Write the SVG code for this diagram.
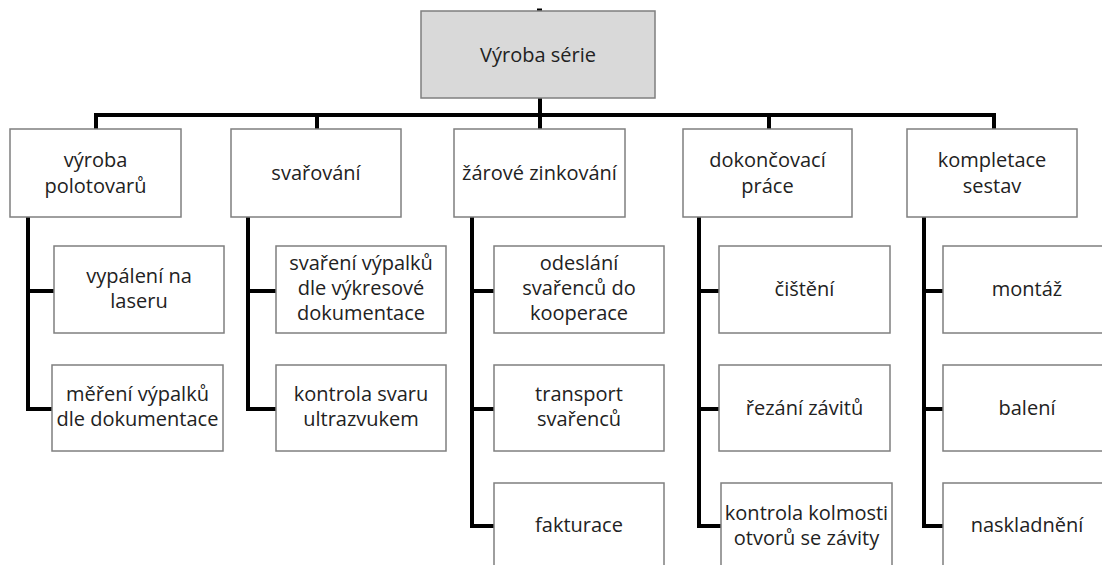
<svg xmlns="http://www.w3.org/2000/svg" width="1102" height="565" viewBox="0 0 1102 565">
  <style>
    .box { fill: #ffffff; stroke: #7f7f7f; stroke-width: 1.5; }
    .root { fill: #d9d9d9; stroke: #7f7f7f; stroke-width: 1.5; }
    .lbl { font-family: "Open Sans", "DejaVu Sans", sans-serif; font-size: 20px; fill: #222222; text-anchor: middle; }
    .wire { fill: none; stroke: #000000; stroke-width: 4; stroke-linejoin: miter; stroke-linecap: butt; }
  </style>
  <rect width="1102" height="565" fill="#ffffff"/>

  <!-- connectors -->
  <g id="connectors" class="wire">
    <rect x="537" y="8.5" width="5" height="3" fill="#000000" stroke="none"/>
    <path d="M540 98 V115"/>
    <path d="M96 131 V115 H994 V131"/>
    <path d="M317 115 V131"/>
    <path d="M540 115 V131"/>
    <path d="M769 115 V131"/>
    <!-- výroba polotovarů -->
    <path d="M28 217 V409 H54"/>
    <path d="M28 291 H54"/>
    <!-- svařování -->
    <path d="M248 217 V409 H277"/>
    <path d="M248 291 H277"/>
    <!-- žárové zinkování -->
    <path d="M472 217 V526 H495"/>
    <path d="M472 291 H495"/>
    <path d="M472 409 H495"/>
    <!-- dokončovací práce -->
    <path d="M699 217 V526 H722"/>
    <path d="M699 291 H720"/>
    <path d="M699 409 H720"/>
    <!-- kompletace sestav -->
    <path d="M924 217 V526 H944"/>
    <path d="M924 291 H944"/>
    <path d="M924 409 H944"/>
  </g>

  <g id="n-root">
    <rect class="root" x="421" y="11" width="234" height="87"/>
    <text class="lbl" x="538" y="61.5">Výroba série</text>
  </g>

  <g id="n-polotovary">
    <rect class="box" x="10" y="129" width="171" height="88"/>
    <text class="lbl" x="95.5" y="166.5">výroba</text>
    <text class="lbl" x="95.5" y="192.5">polotovarů</text>
  </g>
  <g id="n-svarovani">
    <rect class="box" x="231" y="129" width="170" height="88"/>
    <text class="lbl" x="316" y="180">svařování</text>
  </g>
  <g id="n-zinkovani">
    <rect class="box" x="454" y="129" width="171" height="88"/>
    <text class="lbl" x="539.5" y="180">žárové zinkování</text>
  </g>
  <g id="n-dokoncovaci">
    <rect class="box" x="683" y="129" width="169" height="88"/>
    <text class="lbl" x="767.5" y="166.5">dokončovací</text>
    <text class="lbl" x="767.5" y="192.5">práce</text>
  </g>
  <g id="n-kompletace">
    <rect class="box" x="907" y="129" width="170" height="88"/>
    <text class="lbl" x="992" y="166.5">kompletace</text>
    <text class="lbl" x="992" y="192.5">sestav</text>
  </g>

  <g id="n-vypaleni">
    <rect class="box" x="54" y="246" width="170" height="87"/>
    <text class="lbl" x="139" y="283">vypálení na</text>
    <text class="lbl" x="139" y="308">laseru</text>
  </g>
  <g id="n-mereni">
    <rect class="box" x="52" y="365" width="171" height="86"/>
    <text class="lbl" x="137.5" y="401">měření výpalků</text>
    <text class="lbl" x="137.5" y="426">dle dokumentace</text>
  </g>

  <g id="n-svareni">
    <rect class="box" x="276" y="246" width="170" height="87"/>
    <text class="lbl" x="361" y="270">svaření výpalků</text>
    <text class="lbl" x="361" y="295">dle výkresové</text>
    <text class="lbl" x="361" y="320">dokumentace</text>
  </g>
  <g id="n-kontrola-svaru">
    <rect class="box" x="276" y="365" width="170" height="86"/>
    <text class="lbl" x="361" y="401">kontrola svaru</text>
    <text class="lbl" x="361" y="426">ultrazvukem</text>
  </g>

  <g id="n-odeslani">
    <rect class="box" x="494" y="246" width="170" height="87"/>
    <text class="lbl" x="579" y="270">odeslání</text>
    <text class="lbl" x="579" y="295">svařenců do</text>
    <text class="lbl" x="579" y="320">kooperace</text>
  </g>
  <g id="n-transport">
    <rect class="box" x="494" y="365" width="170" height="86"/>
    <text class="lbl" x="579" y="401">transport</text>
    <text class="lbl" x="579" y="426">svařenců</text>
  </g>
  <g id="n-fakturace">
    <rect class="box" x="494" y="483" width="170" height="90"/>
    <text class="lbl" x="579" y="532">fakturace</text>
  </g>

  <g id="n-cisteni">
    <rect class="box" x="719" y="246" width="171" height="87"/>
    <text class="lbl" x="804.5" y="296">čištění</text>
  </g>
  <g id="n-rezani">
    <rect class="box" x="719" y="365" width="171" height="86"/>
    <text class="lbl" x="804.5" y="414.5">řezání závitů</text>
  </g>
  <g id="n-kolmost">
    <rect class="box" x="721" y="483" width="171" height="90"/>
    <text class="lbl" x="806.5" y="520">kontrola kolmosti</text>
    <text class="lbl" x="806.5" y="545">otvorů se závity</text>
  </g>

  <g id="n-montaz">
    <rect class="box" x="943" y="246" width="175" height="87"/>
    <text class="lbl" x="1027" y="296">montáž</text>
  </g>
  <g id="n-baleni">
    <rect class="box" x="943" y="365" width="175" height="86"/>
    <text class="lbl" x="1027" y="414.5">balení</text>
  </g>
  <g id="n-naskladneni">
    <rect class="box" x="943" y="483" width="175" height="90"/>
    <text class="lbl" x="1027" y="532">naskladnění</text>
  </g>
</svg>
